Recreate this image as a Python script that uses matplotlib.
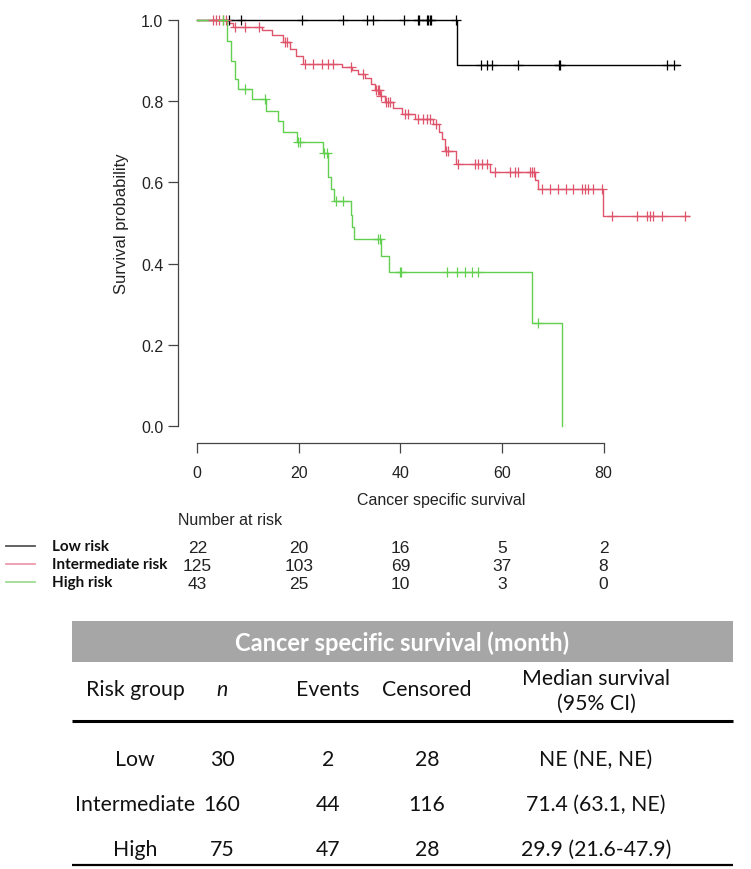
import numpy as np
import matplotlib
matplotlib.use("Agg")
import matplotlib.pyplot as plt
from matplotlib.lines import Line2D
from matplotlib.patches import Rectangle

# ---------------- data ----------------
group_names = ["Low risk", "Intermediate risk", "High risk"]
curve_colors = ["#000000", "#DF536B", "#61D04F"]
legend_colors = ["#555555", "#EE9AAE", "#9FDC95"]

low_t = [0, 51.2]
low_s = [1.0, 0.889]
low_end = 95.0
low_censor = [6.3, 8.6, 20.6, 28.7, 33.5, 34.6, 40.7, 43.4, 43.7, 45.3, 45.5, 45.8,
              46.0, 50.9, 55.8, 57.0, 58.1, 63.1, 71.2, 71.4, 92.5, 93.9]

int_t = [0, 6.2, 7.0, 12.8, 14.8, 16.8, 18.3, 19.5, 20.8, 28.5, 30.4, 31.6, 33.0, 34.2,
         35.0, 36.0, 37.0, 38.5, 40.4, 42.8, 46.5, 47.5, 48.2, 48.8, 51.0, 57.6, 66.5,
         67.0, 79.8]
int_s = [1.0, 0.992, 0.983, 0.975, 0.962, 0.945, 0.928, 0.911, 0.892, 0.884, 0.876,
         0.867, 0.858, 0.843, 0.828, 0.813, 0.798, 0.783, 0.769, 0.756, 0.743, 0.725,
         0.706, 0.678, 0.646, 0.627, 0.605, 0.584, 0.518]
int_end = 96.8
int_censor = [3.1, 3.7, 4.3, 5.1, 5.6, 7.4, 9.4, 12.1, 17.3, 17.7, 21.2, 22.8, 24.5,
              25.8, 26.8, 30.2, 32.7, 35.2, 35.5, 35.8, 36.2, 37.2, 37.6, 38.0, 41.0,
              41.5, 43.5, 44.5, 45.3, 45.8, 47.0, 49.0, 49.4, 51.3, 54.7, 55.3, 56.0,
              57.0, 58.7, 61.6, 62.5, 63.2, 65.5, 66.0, 66.4, 67.8, 69.4, 71.1, 72.7,
              74.0, 75.7, 76.3, 77.0, 78.0, 79.6, 81.6, 86.5, 88.5, 89.1, 89.8, 91.6, 96.0]

high_t = [0, 5.8, 6.6, 7.4, 8.1, 10.7, 13.5, 15.9, 16.9, 19.6, 24.8, 25.8, 26.3, 27.0,
          30.2, 30.5, 30.8, 36.1, 37.8, 65.9, 71.9]
high_s = [1.0, 0.949, 0.90, 0.855, 0.830, 0.806, 0.777, 0.752, 0.725, 0.700, 0.673,
          0.613, 0.584, 0.555, 0.52, 0.49, 0.461, 0.42, 0.38, 0.255, 0.0]
high_end = 71.9
high_censor = [5.0, 9.4, 13.3, 19.8, 20.3, 25.0, 25.5, 27.3, 28.7, 35.6, 36.0, 39.9,
               40.2, 49.1, 51.1, 52.7, 54.0, 55.3, 67.1]

risk_times = [0, 20, 40, 60, 80]
risk_low = [22, 20, 16, 5, 2]
risk_int = [125, 103, 69, 37, 8]
risk_high = [43, 25, 10, 3, 0]

x_ticks = [0, 20, 40, 60, 80]
y_ticks = [0.0, 0.2, 0.4, 0.6, 0.8, 1.0]

table_title = "Cancer specific survival (month)"
tab_groups = ["Low", "Intermediate", "High"]
tab_n = [30, 160, 75]
tab_events = [2, 44, 47]
tab_censored = [28, 116, 28]
tab_median = ["NE (NE, NE)", "71.4 (63.1, NE)", "29.9 (21.6-47.9)"]

# ---------------- figure ----------------
W, H = 751, 870
fig = plt.figure(figsize=(W / 100, H / 100), dpi=100)
fig.patch.set_facecolor("white")


def fx(px):
    return px / W


def fy(py):
    return 1 - py / H


arial = ["Liberation Sans", "DejaVu Sans"]
ax_l, ax_r, ax_t, ax_b = 178, 699, 4.7, 443.5
ax = fig.add_axes([fx(ax_l), fy(ax_b), (ax_r - ax_l) / W, (ax_b - ax_t) / H])
ax.set_xlim(-3.8, 98.8)
ax.set_ylim(-0.04, 1.04)

curves = [(low_t, low_s, low_end, low_censor),
          (int_t, int_s, int_end, int_censor),
          (high_t, high_s, high_end, high_censor)]
for (t, s, end, cens), col in zip(curves, curve_colors):
    tt = np.array(t + [end])
    ss = np.array(s + [s[-1]])
    ax.step(tt, ss, where="post", color=col, lw=1.0, zorder=2)
    c = np.array(cens)
    idx = np.searchsorted(np.array(t), c, side="right") - 1
    cy = np.array(s)[idx]
    ax.plot(c, cy, ls="none", marker="+", ms=7, mew=0.9, color=col, zorder=3)

for side in ["top", "right"]:
    ax.spines[side].set_visible(False)
ax.spines["left"].set_bounds(0, 1)
ax.spines["bottom"].set_bounds(0, 80)
for side in ["left", "bottom"]:
    ax.spines[side].set_color("#444444")
    ax.spines[side].set_linewidth(0.9)
ax.set_xticks(x_ticks)
ax.set_xticklabels([str(v) for v in x_ticks])
ax.set_yticks(y_ticks)
ax.set_yticklabels([f"{v:.1f}" for v in y_ticks])
ax.tick_params(axis="both", direction="out", length=7, width=0.9, color="#444444",
               labelsize=11.5, labelcolor="#222222")
ax.tick_params(axis="x", pad=9)
ax.tick_params(axis="y", pad=3.5)
for lab in ax.get_xticklabels() + ax.get_yticklabels():
    lab.set_family(arial)
ax.set_xlabel("Cancer specific survival", fontsize=11.5, color="#222222", family=arial)
ax.set_ylabel("Survival probability", fontsize=12, color="#222222", family=arial)
ax.xaxis.set_label_coords(0.505, (ax_b - 493) / (ax_b - ax_t))
ax.yaxis.set_label_coords((129 - ax_l) / (ax_r - ax_l), 0.5)

# ---------------- number at risk ----------------
r_t, r_b = 508, 600
axr = fig.add_axes([fx(ax_l), fy(r_b), (ax_r - ax_l) / W, (r_b - r_t) / H])
axr.set_xlim(-3.8, 98.8)
axr.set_ylim(r_b, r_t)
axr.axis("off")
axr.text(-3.8, 521, "Number at risk", ha="left", va="center", fontsize=11.5,
         family=arial, color="#222222")
row_y = [549, 567, 585]
for vals, yy in zip([risk_low, risk_int, risk_high], row_y):
    for tv, v in zip(risk_times, vals):
        axr.text(tv, yy, str(v), ha="center", va="center", fontsize=12.5,
                 family=arial, color="#222222")

for name, col, yy in zip(group_names, legend_colors, row_y):
    fig.add_artist(Line2D([fx(6), fx(35)], [fy(yy - 2), fy(yy - 2)], color=col, lw=1.3))
    fig.text(fx(52), fy(yy - 2), name, ha="left", va="center", fontsize=11,
             fontweight="bold", family=["Lato", "DejaVu Sans"], color="#111111")

# ---------------- summary table ----------------
axt = fig.add_axes([0, 0, 1, fy(605)])
axt.set_xlim(0, W)
axt.set_ylim(H, 605)
axt.axis("off")
tbl_l, tbl_r = 72, 733
axt.add_patch(Rectangle((tbl_l, 622), tbl_r - tbl_l, 41, facecolor="#A6A6A6",
                        edgecolor="none"))
font_t = ["Lato", "DejaVu Sans"]
fs = 15.3
axt.text((tbl_l + tbl_r) / 2, 643, table_title, ha="center", va="center",
         fontsize=17, fontweight="bold", color="white", family=font_t)

col_x = [135, 222, 328, 427, 596]
hdr_y = 690
txt_kw = dict(ha="center", va="center", fontsize=fs, family=font_t, color="#111111")
axt.text(col_x[0], hdr_y, "Risk group", **txt_kw)
axt.text(col_x[1], hdr_y, "n", style="italic", **txt_kw)
axt.text(col_x[2], hdr_y, "Events", **txt_kw)
axt.text(col_x[3], hdr_y, "Censored", **txt_kw)
axt.text(col_x[4], 679, "Median survival", **txt_kw)
axt.text(col_x[4], 704, "(95% CI)", **txt_kw)
axt.plot([tbl_l, tbl_r], [722, 722], color="black", lw=2.2, solid_capstyle="butt")
axt.plot([tbl_l, tbl_r], [866, 866], color="black", lw=1.6, solid_capstyle="butt")

row_ys = [760, 805, 850]
for i, yy in enumerate(row_ys):
    cells = [tab_groups[i], str(tab_n[i]), str(tab_events[i]), str(tab_censored[i]), tab_median[i]]
    for cx, txt in zip(col_x, cells):
        axt.text(cx, yy, txt, **txt_kw)

fig.savefig("out.png", dpi=100, facecolor="white")
